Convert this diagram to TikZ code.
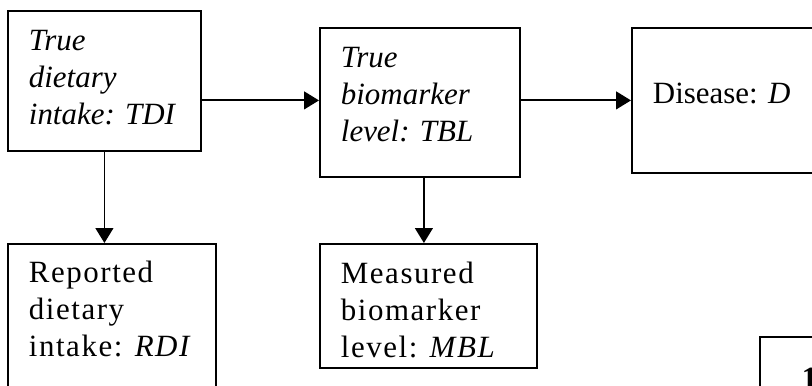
\documentclass[tikz,border=0pt]{standalone}
\usepackage{fontspec}
\setmainfont{Liberation Serif}
\newfontfamily\spacedfont[LetterSpace=5]{Liberation Serif}
\usetikzlibrary{arrows.meta}

\newlength\pxu
\setlength\pxu{0.025cm}
% box of width #1, height #2 (px), first baseline #3 below the top
\newcommand\blk[4]{\parbox[c][#2\pxu][t]{#1\pxu}{\raggedright\leftskip=21\pxu
    \fontsize{22}{26.3}\selectfont\rule{0pt}{#3\pxu}#4}}

\begin{document}
\begin{tikzpicture}[x=0.025cm, y=-0.025cm, line width=1.3pt,
        blk/.style={draw, anchor=north west, inner sep=0pt},
        arr/.style={-{Triangle[length=10.5pt, width=12.5pt]}}]
        \useasboundingbox (0,0) rectangle (812,386);
        \clip (0,0) rectangle (812,386);
        % top row
        \node[blk] (tdi) at (7,10)   {\blk{193}{140}{40}{\itshape True\\dietary\\intake: TDI}};
        \node[blk] (tbl) at (319,27) {\blk{200}{149}{40}{\itshape True\\biomarker\\level: TBL}};
        \node[blk] (d)   at (631,27) {\blk{230}{145}{76}{Disease: \textit{D}}};
        % bottom row
        \node[blk] (rdi) at (7,243)   {\blk{208}{170}{39}{\spacedfont Reported\\dietary\\intake: \textit{RDI}}};
        \node[blk] (mbl) at (319,243) {\blk{217}{124}{40}{\spacedfont Measured\\biomarker\\level: \textit{MBL}}};
        \node[blk] (pg)  at (759,336) {\blk{120}{120}{52}{\hspace*{21\pxu}\bfseries 1}};
        \coordinate (tbs) at ([xshift=0.1cm]tbl.south);
        \draw[arr] (tdi.east |- d.west) -- (tbl.west |- d.west);
        \draw[arr] (tbl.east |- d.west) -- (d.west);
        \draw[arr] (tdi.south) -- (tdi.south |- rdi.north);
        \draw[arr] (tbs) -- (tbs |- mbl.north);
    \end{tikzpicture}
\end{document}
